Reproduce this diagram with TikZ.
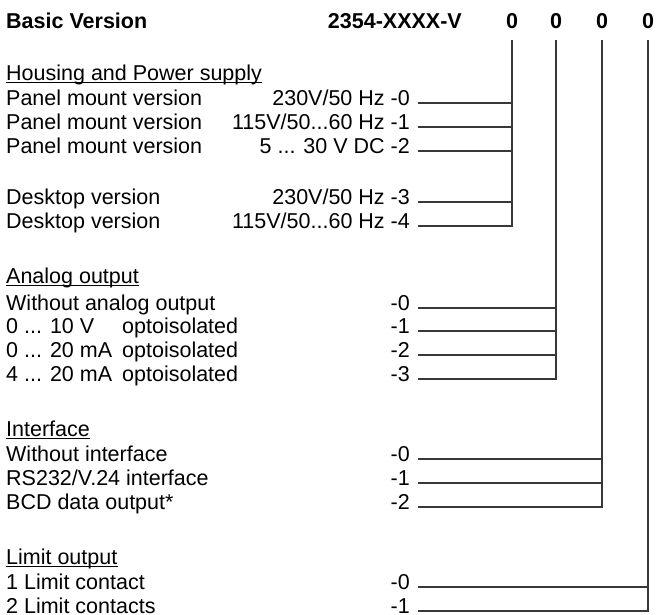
\documentclass[tikz,border=0pt]{standalone}
\usepackage{fontspec}
\setmainfont{Liberation Sans}
\usetikzlibrary{calc}

\begin{document}
\begin{tikzpicture}[x=1pt,y=-1pt,
  lbl/.style={font=\fontsize{21.5}{24}\selectfont,inner sep=0pt,anchor=base west},
  cod/.style={lbl,anchor=base east},
  hd/.style={lbl,font=\fontsize{21.5}{24}\selectfont\bfseries},
  bus/.style={draw=black!78,line width=1.1pt},
  ul/.style={line width=1pt}]
  \useasboundingbox (0,0) rectangle (672,615);

  % Cabecera
  \node[hd] (basic) at (6,29) {Basic Version};
  \node[hd,anchor=base east] (type) at (462,29) {2354-XXXX-V};
  \node[hd,anchor=base] (z1) at (512,29) {0};
  \node[hd,anchor=base] (z2) at (556,29) {0};
  \node[hd,anchor=base] (z3) at (602,29) {0};
  \node[hd,anchor=base] (z4) at (648,29) {0};
  \coordinate (t1) at ([yshift=-11pt]z1.base);
  \coordinate (t2) at ([yshift=-11pt]z2.base);
  \coordinate (t3) at ([yshift=-11pt]z3.base);
  \coordinate (t4) at ([yshift=-11pt]z4.base);

  % Housing and Power supply
  \node[lbl] (hous) at (6,81) {Housing and Power supply};
  \draw[ul] ([yshift=-2pt]hous.base west) -- ([yshift=-2pt]hous.base east);
  \node[lbl] (h0) at (6,105.5) {Panel mount version};
  \node[lbl] (h1) at (6,129.5) {Panel mount version};
  \node[lbl] (h2) at (6,153.5) {Panel mount version};
  \node[lbl] (h3) at (6,204.5) {Desktop version};
  \node[lbl] (h4) at (6,228.5) {Desktop version};
  \node[cod] (hc0) at (410,105.5) {230V/50 Hz -0};
  \node[cod] (hc1) at (410,129.5) {115V/50...60 Hz -1};
  \node[cod] (hc2) at (410,153.5) {5 ... 30 V DC -2};
  \node[cod] (hc3) at (410,204.5) {230V/50 Hz -3};
  \node[cod] (hc4) at (410,228.5) {115V/50...60 Hz -4};
  \foreach \n in {hc0,hc1,hc2,hc3}
    \draw[bus] ([xshift=8pt,yshift=2.5pt]\n.base east) coordinate (p) -- (p -| t1);
  \draw[bus] (t1) |- ([xshift=8pt,yshift=2.5pt]hc4.base east);

  % Analog output
  \node[lbl] (anlg) at (6,283) {Analog output};
  \draw[ul] ([yshift=-2pt]anlg.base west) -- ([yshift=-2pt]anlg.base east);
  \node[lbl] (a0) at (6,310.5) {Without analog output};
  \node[lbl] (a1) at (6,333.5) {0 ... 10 V};
  \node[lbl] (a2) at (6,357.5) {0 ... 20 mA};
  \node[lbl] (a3) at (6,381.5) {4 ... 20 mA};
  \node[lbl] (o1) at (122,333.5) {optoisolated};
  \node[lbl] (o2) at (122,357.5) {optoisolated};
  \node[lbl] (o3) at (122,381.5) {optoisolated};
  \node[cod] (ac0) at (410,310.5) {-0};
  \node[cod] (ac1) at (410,333.5) {-1};
  \node[cod] (ac2) at (410,357.5) {-2};
  \node[cod] (ac3) at (410,381.5) {-3};
  \foreach \n in {ac0,ac1,ac2}
    \draw[bus] ([xshift=8pt,yshift=2.5pt]\n.base east) coordinate (p) -- (p -| t2);
  \draw[bus] (t2) |- ([xshift=8pt,yshift=2.5pt]ac3.base east);

  % Interface
  \node[lbl] (intf) at (6,436) {Interface};
  \draw[ul] ([yshift=-2pt]intf.base west) -- ([yshift=-2pt]intf.base east);
  \node[lbl] (i0) at (6,461.5) {Without interface};
  \node[lbl] (i1) at (6,485.5) {RS232/V.24 interface};
  \node[lbl] (i2) at (6,509.5) {BCD data output*};
  \node[cod] (ic0) at (410,461.5) {-0};
  \node[cod] (ic1) at (410,485.5) {-1};
  \node[cod] (ic2) at (410,509.5) {-2};
  \foreach \n in {ic0,ic1}
    \draw[bus] ([xshift=8pt,yshift=2.5pt]\n.base east) coordinate (p) -- (p -| t3);
  \draw[bus] (t3) |- ([xshift=8pt,yshift=2.5pt]ic2.base east);

  % Limit output
  \node[lbl] (lim) at (6,564) {Limit output};
  \draw[ul] ([yshift=-2pt]lim.base west) -- ([yshift=-2pt]lim.base east);
  \node[lbl] (l0) at (6,589.5) {1 Limit contact};
  \node[lbl] (l1) at (6,613.5) {2 Limit contacts};
  \node[cod] (lc0) at (410,589.5) {-0};
  \node[cod] (lc1) at (410,613.5) {-1};
  \draw[bus] ([xshift=8pt,yshift=2.5pt]lc0.base east) coordinate (p) -- (p -| t4);
  \draw[bus] (t4) |- ([xshift=8pt,yshift=2.5pt]lc1.base east);
\end{tikzpicture}
\end{document}
